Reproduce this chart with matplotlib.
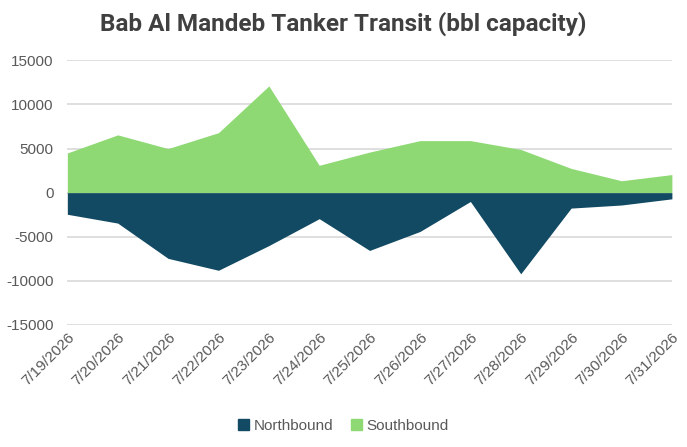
import numpy as np
import matplotlib.pyplot as plt
from matplotlib.patches import Patch

# 数据
dates = ['7/19/2026', '7/20/2026', '7/21/2026', '7/22/2026', '7/23/2026',
         '7/24/2026', '7/25/2026', '7/26/2026', '7/27/2026', '7/28/2026',
         '7/29/2026', '7/30/2026', '7/31/2026']
northbound = [-2450, -3450, -7450, -8800, -6000, -2950, -6550,
              -4400, -1000, -9200, -1750, -1400, -700]
southbound = [4500, 6550, 5000, 6800, 12100, 3100, 4600,
              5900, 5900, 4900, 2750, 1350, 2050]
yticks = [-15000, -10000, -5000, 0, 5000, 10000, 15000]

north_color = '#124A63'
south_color = '#8ED973'
text_color = '#595959'

plt.rcParams['font.family'] = ['Liberation Sans', 'DejaVu Sans']

fig = plt.figure(figsize=(6.87, 4.47), dpi=100)
ax = fig.add_axes([0.098, 0.273, 0.88, 0.592])

x = np.arange(len(dates))
ax.fill_between(x, 0, southbound, color=south_color, linewidth=0, label='Southbound')
ax.fill_between(x, 0, northbound, color=north_color, linewidth=0, label='Northbound')

ax.set_xlim(0, len(dates) - 1)
ax.set_ylim(-15000, 15000)
ax.set_yticks(yticks)
ax.set_yticklabels([str(v) for v in yticks])
ax.set_xticks(x)
ax.set_xticklabels(dates, rotation=45, ha='right', rotation_mode='anchor')
ax.tick_params(axis='both', length=0, labelsize=11, colors=text_color)
ax.tick_params(axis='x', pad=4)
ax.tick_params(axis='y', pad=10)

ax.grid(axis='y', color='#D9D9D9', linewidth=1.2)
ax.set_axisbelow(True)
for s in ax.spines.values():
    s.set_visible(False)

fig.text(0.5, 0.947, 'Bab Al Mandeb Tanker Transit (bbl capacity)',
         ha='center', va='center', fontsize=17.5, fontweight='bold',
         color='#404040', family='Roboto')

handles = [Patch(color=north_color, label='Northbound'),
           Patch(color=south_color, label='Southbound')]
fig.legend(handles=handles, loc='center', bbox_to_anchor=(0.5, 0.048), ncol=2,
           frameon=False, fontsize=11, labelcolor=text_color,
           handlelength=0.7, handleheight=0.7, handletextpad=0.3, columnspacing=1.2)

fig.savefig('out.png', dpi=100)
